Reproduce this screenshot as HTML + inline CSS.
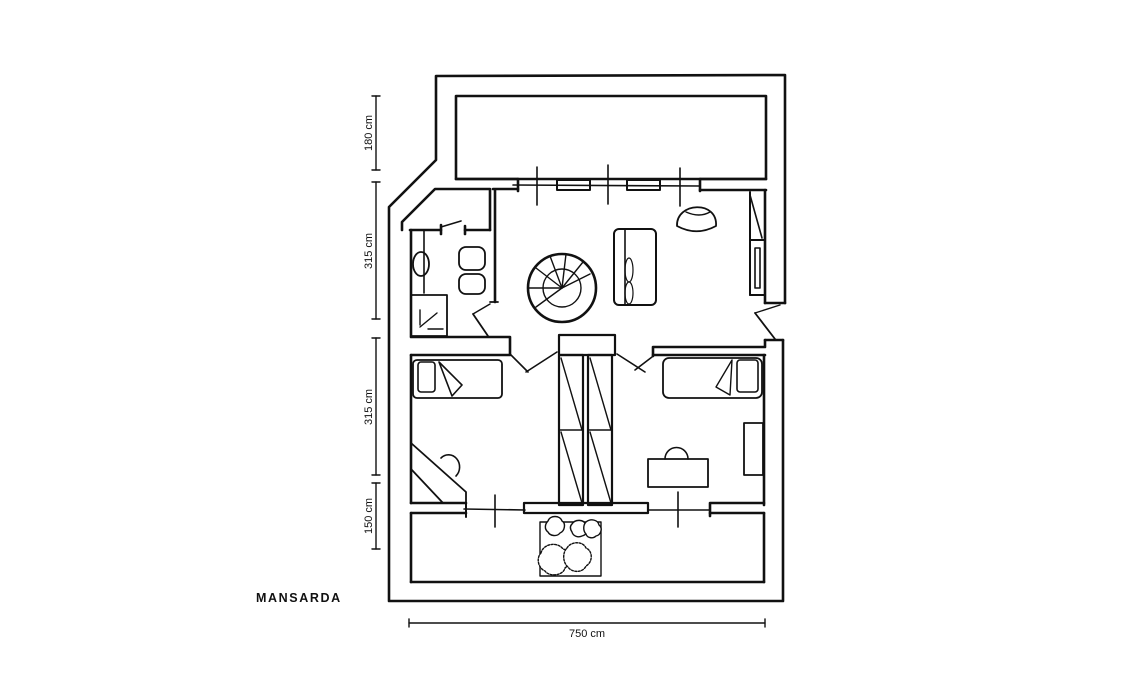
<!DOCTYPE html>
<html><head><meta charset="utf-8"><style>
html,body{margin:0;padding:0;background:#fff;}
svg{display:block}
text{font-family:"Liberation Sans",sans-serif;fill:#111}
</style></head><body>
<svg width="1140" height="680" viewBox="0 0 1140 680" xmlns="http://www.w3.org/2000/svg">
<g stroke="#111" stroke-width="2.6" fill="none" stroke-linecap="round" stroke-linejoin="round">
<!-- outer walls -->
<polyline points="785,303 785,75 436,76 436,160 389,207 389,601 783,601 783,340"/>
<line x1="765" y1="340" x2="783" y2="340"/>
<line x1="765" y1="340" x2="765" y2="346"/>
<line x1="765" y1="303" x2="785" y2="303"/>
<!-- top room -->
<rect x="456" y="96" width="310" height="83"/>
<!-- wall line with windows -->
<line x1="456" y1="179" x2="518" y2="179"/>
<line x1="700" y1="179" x2="766" y2="179"/>
<line x1="493" y1="189" x2="518" y2="189"/>
<line x1="700" y1="190" x2="766" y2="190"/>
<line x1="518" y1="179" x2="518" y2="191"/>
<line x1="700" y1="179" x2="700" y2="191"/>
<line x1="513" y1="185" x2="700" y2="186" stroke-width="1.6"/>
<rect x="557" y="180" width="33" height="10" stroke-width="2"/>
<rect x="627" y="180" width="33" height="10" stroke-width="2"/>
<line x1="537" y1="167" x2="537" y2="205" stroke-width="1.6"/>
<line x1="608" y1="165" x2="608" y2="204" stroke-width="1.6"/>
<line x1="680" y1="168" x2="680" y2="206" stroke-width="1.6"/>
<!-- right closet -->
<line x1="750" y1="192" x2="750" y2="295" stroke-width="2"/>
<line x1="765" y1="190" x2="765" y2="303"/>
<line x1="750" y1="240" x2="765" y2="240" stroke-width="2"/>
<line x1="750" y1="195" x2="762" y2="238" stroke-width="1.6"/>
<rect x="755" y="248" width="5" height="40" stroke-width="1.6"/>
<line x1="750" y1="295" x2="765" y2="295" stroke-width="2"/>
<!-- right door -->
<line x1="755" y1="313" x2="775" y2="339" stroke-width="1.8"/>
<line x1="755" y1="313" x2="780" y2="305" stroke-width="1.4"/>
<!-- bathroom -->
<polyline points="402,230 402,222 435,189 490,189 490,230"/>
<line x1="495" y1="190" x2="495" y2="302"/>
<line x1="490" y1="302" x2="498" y2="302" stroke-width="1.8"/>
<line x1="410" y1="230" x2="441" y2="230"/>
<line x1="465" y1="230" x2="490" y2="230"/>
<polyline points="441,225 441,234"/>
<polyline points="465,226 465,234"/>
<line x1="441" y1="227" x2="461" y2="221" stroke-width="1.6"/>
<line x1="411" y1="230" x2="411" y2="336"/>
<polyline points="411,337 510,337 510,354"/>
<line x1="424" y1="230" x2="424" y2="293" stroke-width="1.6"/>
<ellipse cx="421" cy="264" rx="8" ry="12" stroke-width="1.8"/>
<rect x="411" y="295" width="36" height="41" stroke-width="1.8"/>
<line x1="420" y1="327" x2="437" y2="313" stroke-width="1.4"/>
<line x1="420" y1="310" x2="420" y2="325" stroke-width="1.4"/>
<line x1="428" y1="329" x2="443" y2="329" stroke-width="1.4"/>
<rect x="459" y="247" width="26" height="23" rx="7" stroke-width="1.8"/>
<rect x="459" y="274" width="26" height="20" rx="7" stroke-width="1.8"/>
<!-- bath door -->
<line x1="473" y1="314" x2="488" y2="336" stroke-width="1.8"/>
<line x1="473" y1="314" x2="490" y2="304" stroke-width="1.4"/>
<!-- staircase -->
<circle cx="562" cy="288" r="34"/>
<circle cx="562" cy="288" r="19" stroke-width="1.4"/>
<g stroke-width="1.4">
<line x1="562" y1="288" x2="528" y2="288"/>
<line x1="562" y1="288" x2="536" y2="268"/>
<line x1="562" y1="288" x2="550" y2="256"/>
<line x1="562" y1="288" x2="566" y2="254"/>
<line x1="562" y1="288" x2="583" y2="262"/>
<line x1="562" y1="288" x2="590" y2="274"/>
<line x1="562" y1="288" x2="536" y2="307"/>
</g>
<!-- sofa -->
<rect x="614" y="229" width="42" height="76" rx="5" stroke-width="2"/>
<line x1="625" y1="230" x2="625" y2="304" stroke-width="1.6"/>
<ellipse cx="629" cy="270" rx="4" ry="12" stroke-width="1.2"/>
<ellipse cx="629" cy="293" rx="4" ry="11" stroke-width="1.2"/>
<!-- armchair -->
<path d="M677,226 C676,202 718,200 716,226 C703,233 690,233 677,226 Z" stroke-width="1.8"/>
<path d="M686,212 C695,216 703,216 710,212" stroke-width="1.4"/>
<!-- wardrobe block center -->
<rect x="559" y="335" width="56" height="20" stroke-width="2.2"/>
<rect x="559" y="355" width="24" height="150" stroke-width="2.2"/>
<rect x="588" y="355" width="24" height="150" stroke-width="2.2"/>
<line x1="559" y1="430" x2="583" y2="430" stroke-width="1.6"/>
<line x1="588" y1="430" x2="612" y2="430" stroke-width="1.6"/>
<line x1="561" y1="358" x2="582" y2="430" stroke-width="1.4"/>
<line x1="561" y1="432" x2="582" y2="503" stroke-width="1.4"/>
<line x1="590" y1="358" x2="611" y2="430" stroke-width="1.4"/>
<line x1="590" y1="432" x2="611" y2="503" stroke-width="1.4"/>
<!-- bedroom doors -->
<line x1="510" y1="354" x2="528" y2="372" stroke-width="1.6"/>
<line x1="526" y1="372" x2="557" y2="352" stroke-width="1.6"/>
<line x1="617" y1="354" x2="645" y2="372" stroke-width="1.6"/>
<line x1="635" y1="370" x2="652" y2="357" stroke-width="1.6"/>
<!-- left bedroom -->
<line x1="411" y1="355" x2="411" y2="503"/>
<line x1="411" y1="355" x2="510" y2="355"/>
<line x1="411" y1="503" x2="466" y2="503"/>
<rect x="413" y="360" width="89" height="38" rx="4" stroke-width="1.8"/>
<rect x="418" y="362" width="17" height="30" rx="3" stroke-width="1.6"/>
<path d="M439,362 L462,385 L452,396 Z" stroke-width="1.6"/>
<polyline points="411,443 466,492 466,503" stroke-width="1.8"/>
<line x1="411" y1="469" x2="443" y2="503" stroke-width="1.8"/>
<path d="M441,458 A10,11 0 1,1 456,476" stroke-width="1.6"/>
<!-- right bedroom -->
<polyline points="653,356 653,347 765,347"/>
<line x1="653" y1="355" x2="765" y2="355"/>
<line x1="764" y1="355" x2="764" y2="505"/>
<rect x="663" y="358" width="99" height="40" rx="6" stroke-width="1.8"/>
<rect x="737" y="360" width="21" height="32" rx="3" stroke-width="1.6"/>
<path d="M732,360 L716,387 L730,395 Z" stroke-width="1.4"/>
<rect x="744" y="423" width="19" height="52" stroke-width="1.8"/>
<rect x="648" y="459" width="60" height="28" stroke-width="1.8"/>
<path d="M665,459 A11,11 0 0,1 688,459" stroke-width="1.6"/>
<!-- bottom walls / windows -->
<line x1="466" y1="503" x2="466" y2="517" stroke-width="2"/>
<line x1="464" y1="509" x2="525" y2="510" stroke-width="1.6"/>
<line x1="495" y1="495" x2="495" y2="527" stroke-width="1.6"/>
<rect x="524" y="503" width="124" height="10" stroke-width="2.2"/>
<line x1="648" y1="510" x2="710" y2="510" stroke-width="1.6"/>
<line x1="678" y1="492" x2="678" y2="527" stroke-width="1.6"/>
<rect x="710" y="503" width="54" height="10" stroke-width="0"/>
<polyline points="710,516 710,503 764,503"/>
<line x1="710" y1="513" x2="764" y2="513"/>
<!-- balcony -->
<polyline points="411,513 466,513"/>
<line x1="411" y1="513" x2="411" y2="582"/>
<line x1="411" y1="582" x2="764" y2="582"/>
<line x1="764" y1="513" x2="764" y2="582"/>
<!-- plants -->
<rect x="540" y="522" width="61" height="54" stroke-width="1.4"/>
<g stroke-width="1.4" fill="#fff">
<path d="M548,521 c2,-6 12,-6 14,0 c4,2 3,10 -2,12 c-3,4 -10,3 -12,-1 c-4,-3 -3,-8 0,-11z"/>
<path d="M572,524 c3,-5 12,-5 14,1 c3,4 1,10 -4,11 c-4,2 -9,0 -10,-4 c-2,-3 -2,-6 0,-8z"/>
<path d="M586,522 c5,-4 12,-2 13,3 c4,3 2,10 -3,11 c-3,3 -9,2 -10,-2 c-3,-3 -3,-9 0,-12z"/>
<path d="M541,553 c2,-9 16,-12 22,-4 c8,2 9,14 2,19 c-2,8 -16,9 -20,3 c-7,-3 -9,-13 -4,-18z" stroke-dasharray="2,1.5"/>
<path d="M567,548 c4,-7 16,-7 19,0 c7,3 7,14 0,18 c-3,7 -14,7 -18,1 c-5,-4 -6,-14 -1,-19z" stroke-dasharray="2,1.5"/>
</g>
<!-- dimension lines -->
<g stroke-width="1.4">
<line x1="376" y1="96" x2="376" y2="170"/><line x1="372" y1="96" x2="380" y2="96"/><line x1="372" y1="170" x2="380" y2="170"/>
<line x1="376" y1="182" x2="376" y2="319"/><line x1="372" y1="182" x2="380" y2="182"/><line x1="372" y1="319" x2="380" y2="319"/>
<line x1="376" y1="338" x2="376" y2="475"/><line x1="372" y1="338" x2="380" y2="338"/><line x1="372" y1="475" x2="380" y2="475"/>
<line x1="376" y1="483" x2="376" y2="549"/><line x1="372" y1="483" x2="380" y2="483"/><line x1="372" y1="549" x2="380" y2="549"/>
<line x1="409" y1="623" x2="765" y2="623"/><line x1="409" y1="619" x2="409" y2="627"/><line x1="765" y1="619" x2="765" y2="627"/>
</g>
</g>
<g font-size="11">
<text transform="translate(372,133) rotate(-90)" text-anchor="middle">180 cm</text>
<text transform="translate(372,251) rotate(-90)" text-anchor="middle">315 cm</text>
<text transform="translate(372,407) rotate(-90)" text-anchor="middle">315 cm</text>
<text transform="translate(372,516) rotate(-90)" text-anchor="middle">150 cm</text>
<text x="587" y="637" text-anchor="middle">750 cm</text>
</g>
<text x="256" y="602" font-size="12.5" font-weight="bold" letter-spacing="1.6">MANSARDA</text>
</svg>
</body></html>
